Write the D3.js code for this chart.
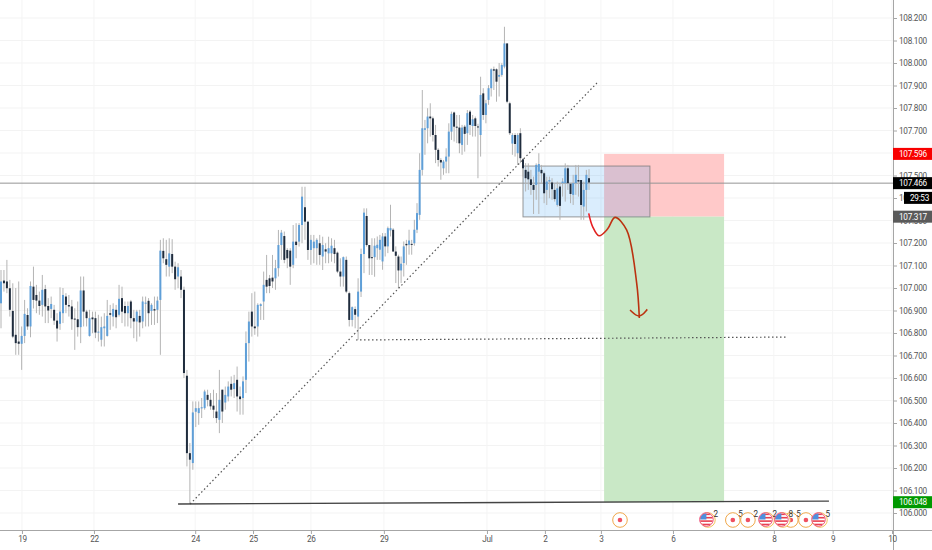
<!DOCTYPE html>
<html>
<head>
<meta charset="utf-8">
<script src="https://cdnjs.cloudflare.com/ajax/libs/d3/7.8.5/d3.min.js"></script>
<style>
	html, body { margin: 0; padding: 0; background: #fff; }
	svg { display: block; }
	text { font-family: Roboto, sans-serif; letter-spacing: -0.28px; }
</style>
</head>
<body>
<div id="chart1"></div>
<script>
var opens = [
	106.932,107.033,107.029,106.999,106.898,106.792,106.762,106.752,106.787,106.880,
	106.829,107.006,106.969,106.944,106.925,106.995,106.920,106.907,106.903,106.855,
	106.841,106.888,106.962,106.924,106.918,106.864,106.861,106.826,106.989,106.895,
	106.787,106.869,106.866,106.802,106.770,106.821,106.787,106.888,106.873,106.903,
	106.881,106.955,106.920,106.888,106.940,106.866,106.851,106.876,106.851,106.930,
	106.943,106.898,106.906,106.903,106.947,107.165,107.128,107.095,107.151,107.095,
	107.051,107.051,106.992,106.610,106.266,106.222,106.450,106.444,106.465,106.466,
	106.525,106.503,106.477,106.451,106.414,106.548,106.491,106.518,106.574,106.551,
	106.592,106.518,106.511,106.592,106.755,106.895,106.829,106.829,106.920,106.940,
	107.036,107.043,107.046,107.043,107.088,107.191,107.231,107.169,107.166,107.103,
	107.206,107.206,107.280,107.359,107.295,107.169,107.177,107.177,107.199,107.140,
	107.172,107.154,107.154,107.177,107.157,107.073,107.051,107.125,106.977,106.858,
	106.906,106.873,106.984,107.151,107.320,107.191,107.137,107.137,107.177,107.170,
	107.118,107.229,107.185,107.256,107.259,107.162,107.140,107.078,107.111,107.196,
	107.192,107.196,107.199,107.259,107.325,107.525,107.703,107.710,107.762,107.754,
	107.680,107.614,107.569,107.532,107.562,107.584,107.695,107.780,107.717,107.713,
	107.636,107.717,107.688,107.784,107.720,107.754,107.718,107.680,107.865,107.769,
	107.836,107.888,107.972,107.972,107.939,107.947,107.984,108.087,107.821,107.642,
	107.680,107.599,107.688,107.572,107.525,107.517,107.483,107.458,107.458,107.517,
	107.525,107.510,107.436,107.473,107.469,107.436,107.369,107.451,107.466,107.466,
	107.532,107.463,107.414,107.466,107.480,107.480,107.362,107.436,107.488
];
var highs = [
	107.080,107.080,107.125,107.036,107.021,107.000,107.029,106.829,106.947,106.910,
	107.029,107.095,107.014,106.984,107.058,107.014,106.955,106.962,106.925,106.888,
	107.003,107.000,106.977,106.969,106.947,106.910,106.940,107.051,107.051,106.903,
	106.903,106.895,106.895,106.881,106.873,106.888,106.947,106.925,106.932,106.925,
	107.014,107.006,106.940,106.940,106.947,106.903,106.903,106.903,106.962,106.962,
	106.955,106.932,106.962,106.962,107.214,107.221,107.214,107.221,107.217,107.117,
	107.110,107.080,107.006,106.636,106.311,106.496,106.496,106.496,106.511,106.548,
	106.548,106.533,106.548,106.533,106.636,106.548,106.562,106.585,106.607,106.614,
	106.651,106.562,106.607,106.807,106.895,106.977,106.984,106.932,106.932,107.073,
	107.147,107.058,107.147,107.125,107.258,107.258,107.251,107.177,107.177,107.280,
	107.288,107.288,107.450,107.450,107.295,107.236,107.236,107.221,107.236,107.228,
	107.199,107.228,107.221,107.214,107.162,107.132,107.140,107.140,106.984,106.918,
	106.918,107.043,107.175,107.354,107.354,107.191,107.221,107.221,107.229,107.236,
	107.244,107.244,107.273,107.370,107.266,107.185,107.148,107.140,107.207,107.214,
	107.259,107.214,107.303,107.377,107.599,107.880,107.747,107.799,107.821,107.762,
	107.725,107.621,107.577,107.569,107.621,107.732,107.784,107.784,107.769,107.769,
	107.725,107.725,107.791,107.791,107.769,107.762,107.730,107.939,107.888,107.836,
	107.902,107.976,107.984,107.976,108.000,107.999,108.161,108.087,107.828,107.688,
	107.688,107.688,107.710,107.577,107.555,107.554,107.525,107.495,107.554,107.599,
	107.547,107.517,107.495,107.495,107.488,107.466,107.473,107.466,107.488,107.554,
	107.547,107.466,107.503,107.547,107.547,107.480,107.473,107.525,107.528
];
var lows = [
	106.821,106.984,106.977,106.873,106.777,106.703,106.703,106.636,106.755,106.814,
	106.781,106.909,106.888,106.881,106.873,106.844,106.844,106.866,106.836,106.762,
	106.814,106.844,106.888,106.873,106.814,106.725,106.784,106.755,106.829,106.829,
	106.784,106.799,106.777,106.762,106.740,106.740,106.784,106.814,106.829,106.821,
	106.873,106.844,106.829,106.829,106.821,106.777,106.762,106.784,106.821,106.829,
	106.829,106.836,106.836,106.844,106.703,107.110,107.051,107.051,107.066,106.992,
	106.999,106.955,106.600,106.207,106.040,106.192,106.382,106.392,106.422,106.459,
	106.474,106.459,106.422,106.400,106.355,106.400,106.459,106.496,106.518,106.511,
	106.451,106.437,106.437,106.533,106.673,106.784,106.792,106.784,106.858,106.858,
	106.977,106.977,107.000,106.992,107.051,107.125,107.110,107.088,107.014,107.088,
	107.132,107.184,107.199,107.214,107.125,107.103,107.110,107.103,107.103,107.080,
	107.110,107.110,107.117,107.110,107.066,107.006,107.006,106.977,106.829,106.829,
	106.821,106.770,106.960,107.066,107.184,107.058,107.058,107.050,107.125,107.125,
	107.081,107.140,107.155,107.229,107.162,107.022,106.999,107.022,107.051,107.103,
	107.148,107.148,107.188,107.244,107.303,107.500,107.592,107.643,107.673,107.651,
	107.555,107.540,107.481,107.503,107.510,107.510,107.658,107.651,107.644,107.599,
	107.592,107.606,107.636,107.680,107.673,107.673,107.488,107.584,107.747,107.732,
	107.814,107.851,107.880,107.828,107.851,107.939,107.976,107.821,107.680,107.592,
	107.584,107.547,107.555,107.495,107.429,107.436,107.414,107.329,107.392,107.329,
	107.466,107.377,107.369,107.399,107.392,107.384,107.362,107.303,107.406,107.384,
	107.436,107.377,107.369,107.414,107.406,107.303,107.303,107.340,107.436
];
var closes = [
	107.029,107.021,106.999,106.903,106.784,106.755,106.752,106.787,106.885,106.829,
	107.009,106.947,106.944,106.920,106.992,106.918,106.900,106.929,106.855,106.820,
	106.895,106.969,106.925,106.918,106.861,106.861,106.826,106.989,106.895,106.866,
	106.866,106.861,106.802,106.806,106.826,106.829,106.876,106.881,106.907,106.870,
	106.952,106.895,106.888,106.920,106.866,106.851,106.895,106.847,106.940,106.935,
	106.888,106.925,106.900,106.944,107.166,107.132,107.103,107.154,107.095,107.039,
	107.092,106.992,106.622,106.266,106.237,106.447,106.466,106.466,106.470,106.540,
	106.503,106.474,106.459,106.422,106.503,106.451,106.525,106.562,106.548,106.577,
	106.518,106.506,106.585,106.755,106.851,106.829,106.821,106.925,106.928,107.014,
	107.006,107.009,107.029,107.088,107.191,107.246,107.125,107.132,107.095,107.206,
	107.191,107.280,107.406,107.295,107.169,107.214,107.206,107.214,107.147,107.191,
	107.162,107.177,107.188,107.151,107.073,107.051,107.137,106.984,106.858,106.915,
	106.881,106.984,107.151,107.335,107.191,107.132,107.134,107.188,107.192,107.214,
	107.229,107.185,107.266,107.266,107.162,107.143,107.078,107.108,107.185,107.190,
	107.211,107.192,107.259,107.333,107.525,107.710,107.710,107.762,107.754,107.680,
	107.614,107.569,107.558,107.562,107.584,107.695,107.774,107.717,107.713,107.643,
	107.713,107.685,107.777,107.725,107.750,107.720,107.716,107.858,107.769,107.821,
	107.888,107.972,107.966,107.917,107.947,107.991,108.087,107.828,107.688,107.680,
	107.640,107.680,107.577,107.532,107.488,107.483,107.458,107.436,107.547,107.551,
	107.510,107.421,107.473,107.480,107.439,107.395,107.443,107.365,107.473,107.532,
	107.466,107.418,107.466,107.503,107.473,107.369,107.436,107.503,107.469
];

// x is measured in bars, counted from 1; bars past the last candle are future time
var dayBars = [8.1, 32.5, 66.8, 86.4, 106, 131.5, 170.4, 192.3, 213.5, 240.7, 278.8, 301, 323.4];
var dayLabels = ["19", "22", "24", "25", "26", "29", "Jul", "2", "3", "6", "8", "9", "10"];
var priceTicks = [106.0,106.1,106.2,106.3,106.4,106.5,106.6,106.7,106.8,106.9,107.0,107.1,107.2,107.3,107.4,107.5,107.6,107.7,107.8,107.9,108.0,108.1,108.2];

// drawings
var lastPrice = 107.466;
var trendBars = [65.1, 212], trendPrices = [106.04, 107.911];
var baseBars = [61, 299.6], basePrices = [106.04, 106.053];
var targetBars = [121.3, 284.1], targetPrices = [106.769, 106.782];
var rangeBars = [184, 232], rangePrices = [107.542, 107.316];
var positionBars = [214.7, 260];
var stopPrice = 107.596, entryPrice = 107.317, profitPrice = 106.048;
var curveBars = [208.9, 210.4, 212.8, 216, 218.8, 223.2, 227, 228];
var curvePrices = [107.332, 107.272, 107.232, 107.262, 107.314, 107.258, 107.022, 106.867];
var headBars = [224.5, 228, 231];
var headPrices = [106.902, 106.862, 106.905];

// calendar events along the bottom
var eventBars = [220.7, 253.9, 263.3, 269, 276.2, 285.2, 282.2, 290.9, 296.2];
var eventKinds = ["dot", "flag", "dot", "dot", "flag", "dot", "flag", "dot", "flag"];
var eventCounts = ["", "2", "5", "2", "2", "5", "8", "", "5"];

var upColor = "#5f9fd8", downColor = "#1f2c3d", wickColor = "#b4b4b4";

draw_chart();

function draw_chart() {
	var width = 932, height = 550, axisX = 893, axisY = 530;

	var svg = d3.select('#chart1')
		.append("svg")
		.attr("width", width)
		.attr("height", height)
		;

	var x = d3.scaleLinear()
		.domain([1, 124, 184, 209, 323.4])
		.range([1, 364, 523, 589, 892])
		;
	var y = d3.scaleLinear()
		.domain([106, 108.2])
		.range([513, 18])
		;

	// grid
	svg.append("g").selectAll("line")
		.data(priceTicks)
		.enter().append("line")
		.attr("x1", 0).attr("x2", axisX)
		.attr("y1", function (d) { return y(d); })
		.attr("y2", function (d) { return y(d); })
		.style("stroke", "#f3f3f3")
		;
	svg.append("g").selectAll("line")
		.data(dayBars)
		.enter().append("line")
		.attr("x1", function (d) { return x(d); })
		.attr("x2", function (d) { return x(d); })
		.attr("y1", 0).attr("y2", axisY)
		.style("stroke", "#f5f5f5")
		;

	// short position
	svg.append("rect")
		.attr("x", x(positionBars[0]))
		.attr("y", y(stopPrice))
		.attr("width", x(positionBars[1]) - x(positionBars[0]))
		.attr("height", y(entryPrice) - y(stopPrice))
		.style("fill", "#ffc9c9")
		;
	svg.append("rect")
		.attr("x", x(positionBars[0]))
		.attr("y", y(entryPrice))
		.attr("width", x(positionBars[1]) - x(positionBars[0]))
		.attr("height", y(profitPrice) - y(entryPrice))
		.style("fill", "#c9e8c6")
		;

	// consolidation box
	svg.append("rect")
		.attr("x", x(rangeBars[0]))
		.attr("y", y(rangePrices[0]))
		.attr("width", x(rangeBars[1]) - x(rangeBars[0]))
		.attr("height", y(rangePrices[1]) - y(rangePrices[0]))
		.style("fill", "#2196f3")
		.style("fill-opacity", 0.17)
		.style("stroke", "#777")
		.style("stroke-opacity", 0.75)
		;

	// last price line
	svg.append("line")
		.attr("x1", 0).attr("x2", axisX)
		.attr("y1", y(lastPrice)).attr("y2", y(lastPrice))
		.style("stroke", "#949494")
		;

	// candles
	var bars = d3.range(opens.length);
	svg.append("g").selectAll("line")
		.data(bars)
		.enter().append("line")
		.attr("x1", function (i) { return x(i + 1); })
		.attr("x2", function (i) { return x(i + 1); })
		.attr("y1", function (i) { return y(highs[i]); })
		.attr("y2", function (i) { return y(lows[i]); })
		.style("stroke", wickColor)
		.style("stroke-width", 1)
		;
	svg.append("g").selectAll("rect")
		.data(bars)
		.enter().append("rect")
		.attr("x", function (i) { return x(i + 1) - 1; })
		.attr("width", 2)
		.attr("y", function (i) { return y(Math.max(opens[i], closes[i])); })
		.attr("height", function (i) { return Math.max(1, Math.abs(y(opens[i]) - y(closes[i]))); })
		.style("fill", function (i) { return closes[i] >= opens[i] ? upColor : downColor; })
		;

	// trend and level lines
	function two_point(bx, py, dash, color, w) {
		svg.append("line")
			.attr("x1", x(bx[0])).attr("x2", x(bx[1]))
			.attr("y1", y(py[0])).attr("y2", y(py[1]))
			.style("stroke", color)
			.style("stroke-width", w)
			.style("stroke-dasharray", dash)
			;
	}
	two_point(trendBars, trendPrices, "1.5 2.5", "#555", 1.2);
	two_point(targetBars, targetPrices, "1.5 2.5", "#555", 1.2);
	two_point(baseBars, basePrices, null, "#444", 1.3);

	// hand drawn arrow
	var defs = svg.append("defs");
	var grad = defs.append("linearGradient")
		.attr("id", "arrowGrad")
		.attr("gradientUnits", "userSpaceOnUse")
		.attr("x1", x(curveBars[0])).attr("x2", x(curveBars[4]))
		.attr("y1", 0).attr("y2", 0)
		;
	grad.append("stop").attr("offset", "0%").attr("stop-color", "#ee1c25");
	grad.append("stop").attr("offset", "100%").attr("stop-color", "#bb3210");

	var line = d3.line()
		.x(function (d) { return x(d[0]); })
		.y(function (d) { return y(d[1]); })
		;
	svg.append("path")
		.attr("d", line.curve(d3.curveCatmullRom)(d3.zip(curveBars, curvePrices)))
		.style("fill", "none")
		.style("stroke", "url(#arrowGrad)")
		.style("stroke-width", 1.6)
		;
	svg.append("path")
		.attr("d", line.curve(d3.curveBasis)(d3.zip(headBars, headPrices)))
		.style("fill", "none")
		.style("stroke", "#bb3210")
		.style("stroke-width", 1.6)
		;

	// axes
	var yAxis = d3.axisRight(y)
		.tickValues(priceTicks)
		.tickFormat(d3.format(".3f"))
		.tickSize(4)
		.tickPadding(2)
		;
	var yG = svg.append("g")
		.attr("transform", "translate(" + axisX + ",0)")
		.call(yAxis)
		;
	yG.select(".domain").attr("d", "M0.5,0V" + height).style("stroke", "#a6a6a6");
	yG.selectAll("line").style("stroke", "#a6a6a6");
	yG.selectAll("text").style("font-size", "8.2px").style("fill", "#555");

	var xAxis = d3.axisBottom(x)
		.tickValues(dayBars)
		.tickFormat(function (d, i) { return dayLabels[i]; })
		.tickSize(4)
		.tickPadding(2)
		;
	var xG = svg.append("g")
		.attr("transform", "translate(0," + axisY + ")")
		.call(xAxis)
		;
	xG.select(".domain").attr("d", "M0,0.5H" + width).style("stroke", "#a6a6a6");
	xG.selectAll("line").style("stroke", "#a6a6a6");
	xG.selectAll("text").style("font-size", "8.2px").style("fill", "#555");

	// price tags on the axis
	function tag(price, color, label, tx) {
		svg.append("rect")
			.attr("x", tx)
			.attr("y", y(price) - 6)
			.attr("width", width - tx)
			.attr("height", 12)
			.style("fill", color)
			;
		svg.append("text")
			.attr("x", tx + 6)
			.attr("y", y(price) + 3)
			.style("font-size", "8.2px")
			.style("fill", "#fff")
			.text(label)
			;
	}
	tag(stopPrice, "#f80000", "107.596", axisX);
	tag(entryPrice, "#5a5a5a", "107.317", axisX);
	tag(profitPrice, "#009900", "106.048", axisX);
	tag(lastPrice, "#000", "107.466", axisX);
	tag(lastPrice - 0.0655, "#000", "29:53", 904);

	// events
	var evY = 520, evR = 7.3;
	var ev = svg.append("g").selectAll("g")
		.data(eventBars)
		.enter().append("g")
		.attr("transform", function (d) { return "translate(" + x(d) + "," + evY + ")"; })
		;
	ev.append("circle")
		.attr("r", evR)
		.style("fill", "#fff")
		.style("stroke", function (d, i) { return eventKinds[i] == "flag" ? "#f5c25a" : "#f0a84a"; })
		.style("stroke-width", 1)
		;
	ev.filter(function (d, i) { return eventKinds[i] == "dot"; })
		.append("circle")
		.attr("r", 2.3)
		.style("fill", "#ef5060")
		;
	var flags = ev.filter(function (d, i) { return eventKinds[i] == "flag"; });
	defs.append("clipPath").attr("id", "flagClip").append("circle").attr("r", evR - 1);
	var fg = flags.append("g")
		.attr("transform", "translate(-1.5,-0.5)")
		.append("g")
		.attr("clip-path", "url(#flagClip)")
		;
	fg.append("rect").attr("x", -7).attr("y", -7).attr("width", 14).attr("height", 14).style("fill", "#fff");
	d3.range(4).forEach(function (k) {
		fg.append("rect").attr("x", -7).attr("y", -6 + k * 3.4).attr("width", 14).attr("height", 1.6).style("fill", "#e8404f");
	});
	fg.append("rect").attr("x", -7).attr("y", -7).attr("width", 7).attr("height", 7).style("fill", "#4f8fdc");
	flags.append("circle")
		.attr("cx", -1.5).attr("cy", -0.5)
		.attr("r", evR - 0.5)
		.style("fill", "none")
		.style("stroke", "#ef5078")
		.style("stroke-width", 1)
		;
	ev.append("text")
		.attr("x", 5.5)
		.attr("y", -3)
		.style("font-size", "8.2px")
		.style("fill", "#333")
		.text(function (d, i) { return eventCounts[i]; })
		;
}
</script>
</body>
</html>
